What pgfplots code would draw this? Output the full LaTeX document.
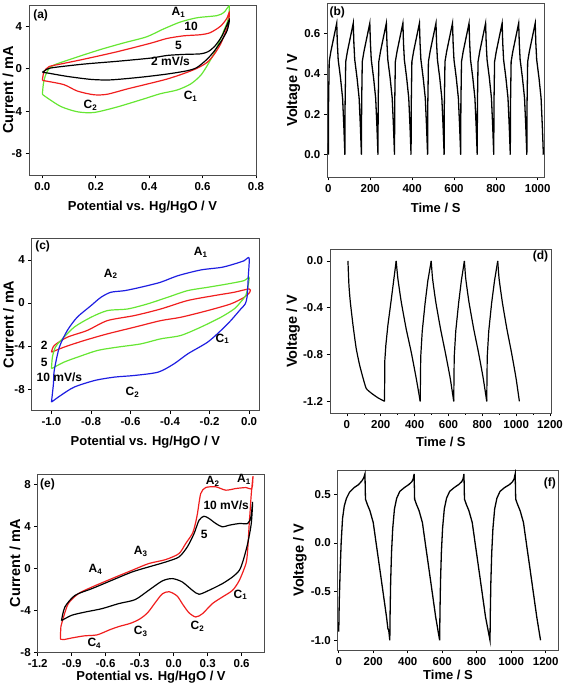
\documentclass[border=0pt]{standalone}
\usepackage{fontspec}
\setmainfont{Liberation Sans}
\usepackage{pgfplots}
\pgfplotsset{compat=1.18}
\definecolor{cvgreen}{RGB}{102,230,51}
\definecolor{cvred}{RGB}{240,30,30}
\definecolor{cvblue}{RGB}{30,30,225}
\pgfplotsset{
  panel/.style={
    scale only axis, anchor=south west,
    axis line style={black!70, line width=0.6pt},
    tick style={black, line width=0.6pt},
    tick align=outside, tick pos=left,
    major tick length=3.5pt, minor tick length=2pt,
    tick label style={font=\fontsize{11.5}{13}\selectfont\bfseries},
    xlabel style={font=\fontsize{13}{15}\selectfont\bfseries},
    ylabel style={font=\fontsize{14.5}{16}\selectfont\bfseries},
    /pgf/number format/assume math mode=true,
    /pgf/number format/1000 sep={},
    every axis plot/.append style={line width=1.2pt},
  },
  onedec/.style={/pgf/number format/.cd, fixed, fixed zerofill, precision=1},
  yl/.style={ylabel style={at={(axis description cs:#1,0.5)}, anchor=center}},
  xl/.style={xlabel style={at={(axis description cs:0.5,#1)}, anchor=center}},
}
\tikzset{lbl/.style={font=\fontsize{12}{14}\selectfont\bfseries, inner sep=0pt}}
\begin{document}
\begin{tikzpicture}
\useasboundingbox (0,0) rectangle (567pt,692pt);
%------------------------------------------------ (a)
\begin{axis}[panel, at={(29pt,517pt)}, width=227pt, height=170pt,
  xmin=-0.05, xmax=0.8, ymin=-10, ymax=6,
  xtick={0,0.2,0.4,0.6,0.8}, ytick={-8,-4,0,4},
  xticklabel style={onedec}, yl=-0.092, xl=-0.188,
  xlabel={Potential vs. Hg/HgO / V}, ylabel={Current / mA}]
\addplot[cvgreen, smooth, tension=0.45] coordinates {
(0.0,-2.4)(0.004,-1.4)(0.012,-0.6)(0.025,0.0)(0.044,0.35)(0.094,0.8)(0.21,1.75)
(0.30,2.4)(0.39,3.0)(0.45,3.7)(0.517,4.4)(0.58,4.8)(0.654,5.0)(0.68,5.3)(0.70,5.9)
(0.695,4.6)(0.68,3.6)(0.667,2.8)(0.642,1.4)(0.617,0.28)(0.592,-0.65)(0.555,-1.44)
(0.505,-2.0)(0.442,-2.35)(0.38,-2.84)(0.28,-3.6)(0.193,-4.12)(0.131,-4.05)
(0.069,-3.55)(0.01,-2.6)(0.0,-2.4)};
\addplot[cvred, smooth, tension=0.45] coordinates {
(0.0,-1.1)(0.006,-0.3)(0.025,0.2)(0.07,0.45)(0.156,0.9)(0.28,1.6)(0.405,2.4)
(0.467,2.85)(0.53,3.1)(0.592,3.2)(0.629,3.4)(0.667,4.0)(0.69,4.7)(0.70,5.3)
(0.697,4.3)(0.685,3.4)(0.667,2.3)(0.642,1.3)(0.617,0.6)(0.58,0.05)(0.53,-0.45)
(0.467,-0.97)(0.393,-1.44)(0.318,-1.9)(0.243,-2.4)(0.193,-2.45)(0.131,-2.1)
(0.081,-1.5)(0.012,-1.15)(0.0,-1.1)};
\addplot[black, smooth, tension=0.45] coordinates {
(0.0,-0.34)(0.019,-0.03)(0.044,0.12)(0.156,0.44)(0.28,0.7)(0.405,1.0)(0.467,1.25)
(0.53,1.35)(0.592,1.4)(0.62,1.6)(0.645,2.1)(0.673,3.1)(0.70,4.6)
(0.692,3.6)(0.67,2.6)(0.645,1.7)(0.617,0.9)(0.579,0.12)(0.542,-0.19)(0.467,-0.5)
(0.368,-0.8)(0.255,-1.05)(0.181,-1.0)(0.093,-0.72)(0.019,-0.4)(0.0,-0.34)};
\node[lbl, anchor=west] at (rel axis cs:0.018,0.94) {(a)};
\node[lbl] at (axis cs:0.51,5.3) {A\textsubscript{1}};
\node[lbl] at (axis cs:0.557,4.0) {10};
\node[lbl] at (axis cs:0.51,2.15) {5};
\node[lbl] at (axis cs:0.48,0.66) {2 mV/s};
\node[lbl] at (axis cs:0.555,-2.6) {C\textsubscript{1}};
\node[lbl] at (axis cs:0.18,-3.47) {C\textsubscript{2}};
\end{axis}
%------------------------------------------------ (b)
\begin{axis}[panel, at={(327.3pt,515pt)}, width=216.7pt, height=174pt,
  xmin=-5, xmax=1030, ymin=-0.11, ymax=0.75,
  xtick={0,200,400,600,800,1000}, ytick={0,0.2,0.4,0.6},
  yticklabel style={onedec}, yl=-0.157, xl=-0.178,
  xlabel={Time / S}, ylabel={Voltage / V}]
\addplot[black, line width=1.3pt] coordinates {
(0,0)(1,0.25)(4,0.46)(12,0.51)(26,0.58)(40,0.65)(43,0.55)(47,0.47)(58,0.38)(68,0.28)(74,0.14)
(79,0)(80,0.25)(83,0.46)(91,0.51)(105,0.58)(119,0.65)(122,0.55)(126,0.47)(137,0.38)(147,0.28)(153,0.14)
(158,0)(159,0.25)(162,0.46)(170,0.51)(184,0.58)(198,0.65)(201,0.55)(205,0.47)(216,0.38)(226,0.28)(232,0.14)
(237,0)(238,0.25)(241,0.46)(249,0.51)(263,0.58)(277,0.65)(280,0.55)(284,0.47)(295,0.38)(305,0.28)(311,0.14)
(316,0)(317,0.25)(320,0.46)(328,0.51)(342,0.58)(356,0.65)(359,0.55)(363,0.47)(374,0.38)(384,0.28)(390,0.14)
(395,0)(396,0.25)(399,0.46)(407,0.51)(421,0.58)(435,0.65)(438,0.55)(442,0.47)(453,0.38)(463,0.28)(469,0.14)
(474,0)(475,0.25)(478,0.46)(486,0.51)(500,0.58)(514,0.65)(517,0.55)(521,0.47)(532,0.38)(542,0.28)(548,0.14)
(553,0)(554,0.25)(557,0.46)(565,0.51)(579,0.58)(593,0.65)(596,0.55)(600,0.47)(611,0.38)(621,0.28)(627,0.14)
(632,0)(633,0.25)(636,0.46)(644,0.51)(658,0.58)(672,0.65)(675,0.55)(679,0.47)(690,0.38)(700,0.28)(706,0.14)
(711,0)(712,0.25)(715,0.46)(723,0.51)(737,0.58)(751,0.65)(754,0.55)(758,0.47)(769,0.38)(779,0.28)(785,0.14)
(790,0)(791,0.25)(794,0.46)(802,0.51)(816,0.58)(830,0.65)(833,0.55)(837,0.47)(848,0.38)(858,0.28)(864,0.14)
(869,0)(870,0.25)(873,0.46)(881,0.51)(895,0.58)(909,0.65)(912,0.55)(916,0.47)(927,0.38)(937,0.28)(943,0.14)
(948,0)(949,0.25)(952,0.46)(960,0.51)(974,0.58)(988,0.65)(991,0.55)(995,0.47)(1006,0.38)(1016,0.28)(1022,0.14)
(1027,0)};
\node[lbl, anchor=west] at (rel axis cs:0.01,0.945) {(b)};
\end{axis}
%------------------------------------------------ (c)
\begin{axis}[panel, at={(31.7pt,281.3pt)}, width=227.3pt, height=172.4pt,
  xmin=-1.1, xmax=0.05, ymin=-10, ymax=6,
  xtick={-1,-0.8,-0.6,-0.4,-0.2,0}, ytick={-8,-4,0,4},
  xticklabel style={onedec}, yl=-0.102, xl=-0.18,
  xlabel={Potential vs. Hg/HgO / V}, ylabel={Current / mA}]
\addplot[cvred, smooth, tension=0.45] coordinates {
(-1.0,-4.57)(-0.986,-3.95)(-0.92,-3.18)(-0.82,-2.56)(-0.717,-1.64)(-0.58,-1.17)
(-0.447,-0.56)(-0.312,0.22)(-0.177,0.68)(-0.076,0.99)(0.0,1.3)(0.003,0.99)
(-0.025,0.52)(-0.093,-0.09)(-0.21,-0.71)(-0.346,-1.33)(-0.447,-1.64)(-0.58,-2.25)
(-0.717,-2.87)(-0.835,-3.49)(-0.936,-4.1)(-1.0,-4.57)};
\addplot[cvgreen, smooth, tension=0.45] coordinates {
(-1.0,-6.1)(-0.995,-5.0)(-0.98,-4.1)(-0.953,-3.49)(-0.885,-2.25)(-0.80,-1.33)
(-0.717,-0.71)(-0.615,-0.56)(-0.514,-0.09)(-0.413,0.52)(-0.312,1.14)(-0.21,1.45)
(-0.11,1.76)(-0.025,2.07)(0.0,2.38)(-0.006,1.5)(-0.017,0.7)(-0.042,0.1)(-0.076,-0.56)
(-0.143,-1.33)(-0.245,-2.25)(-0.346,-3.02)(-0.447,-3.33)(-0.548,-3.8)(-0.666,-4.1)
(-0.767,-4.41)(-0.868,-5.03)(-0.936,-5.49)(-1.0,-6.1)};
\addplot[cvblue, smooth, tension=0.45] coordinates {
(-1.0,-9.2)(-0.99,-7.5)(-0.986,-6.27)(-0.96,-4.1)(-0.92,-2.56)(-0.87,-1.33)
(-0.80,-0.25)(-0.75,0.52)(-0.70,0.99)(-0.63,1.14)(-0.55,1.45)(-0.45,1.91)
(-0.36,2.53)(-0.245,3.06)(-0.14,3.3)(-0.076,3.61)(-0.025,3.92)(0.0,4.17)
(-0.004,2.5)(-0.01,0.6)(-0.02,-0.1)(-0.042,-0.56)(-0.093,-1.64)(-0.143,-2.56)
(-0.21,-3.64)(-0.31,-4.72)(-0.38,-5.65)(-0.46,-6.42)(-0.58,-6.73)(-0.68,-6.88)
(-0.78,-7.19)(-0.885,-7.81)(-0.953,-8.58)(-1.0,-9.2)};
\node[lbl, anchor=west] at (rel axis cs:0.015,0.955) {(c)};
\node[lbl] at (axis cs:-0.245,4.7) {A\textsubscript{1}};
\node[lbl] at (axis cs:-0.70,2.7) {A\textsubscript{2}};
\node[lbl] at (axis cs:-0.135,-3.33) {C\textsubscript{1}};
\node[lbl] at (axis cs:-0.59,-8.27) {C\textsubscript{2}};
\node[lbl] at (axis cs:-1.037,-3.95) {2};
\node[lbl] at (axis cs:-1.037,-5.5) {5};
\node[lbl] at (axis cs:-0.96,-6.88) {10 mV/s};
\end{axis}
%------------------------------------------------ (d)
\begin{axis}[panel, at={(330pt,279pt)}, width=221.7pt, height=163.7pt,
  xmin=-100, xmax=1210, ymin=-1.3, ymax=0.1,
  xtick={0,200,400,600,800,1000,1200}, minor x tick num=1,
  ytick={-1.2,-0.8,-0.4,0}, yticklabel style={onedec}, yl=-0.166, xl=-0.175,
  xlabel={Time / S}, ylabel={Voltage / V}]
\addplot[black, line width=1.2pt, smooth, tension=0.3] coordinates {
(6,0)(12,-0.21)(20,-0.35)(36,-0.55)(55,-0.75)(75,-0.89)(95,-1.0)(114,-1.09)
(144,-1.13)(183,-1.17)(222,-1.2)};
\addplot[black, line width=1.2pt] coordinates {
(222,-1.2)(224,-0.85)(230,-0.72)(242,-0.55)(262,-0.33)(276,-0.17)(291,0)};
\addplot[black, line width=1.2pt, smooth, tension=0.3] coordinates {
(291,0)(301,-0.15)(321,-0.35)(350,-0.58)(380,-0.78)(409,-1.0)(433,-1.2)};
\addplot[black, line width=1.2pt] coordinates {
(433,-1.2)(436,-0.82)(445,-0.6)(462,-0.36)(478,-0.17)(498,0)};
\addplot[black, line width=1.2pt, smooth, tension=0.3] coordinates {
(498,0)(506,-0.15)(525,-0.35)(553,-0.58)(581,-0.78)(610,-1.0)(631,-1.2)};
\addplot[black, line width=1.2pt] coordinates {
(631,-1.2)(634,-0.82)(643,-0.6)(660,-0.36)(676,-0.17)(694,0)};
\addplot[black, line width=1.2pt, smooth, tension=0.3] coordinates {
(694,0)(702,-0.15)(721,-0.35)(749,-0.58)(777,-0.78)(805,-1.0)(826,-1.2)};
\addplot[black, line width=1.2pt] coordinates {
(826,-1.2)(829,-0.82)(838,-0.6)(855,-0.36)(872,-0.17)(891,0)};
\addplot[black, line width=1.2pt, smooth, tension=0.3] coordinates {
(891,0)(899,-0.15)(918,-0.35)(945,-0.58)(972,-0.78)(999,-1.0)(1019,-1.2)};
\node[lbl, anchor=east] at (rel axis cs:0.985,0.955) {(d)};
\end{axis}
%------------------------------------------------ (e)
\begin{axis}[panel, at={(37.7pt,39.3pt)}, width=226.6pt, height=178.7pt,
  xmin=-1.2, xmax=0.8, ymin=-8, ymax=9,
  xtick={-1.2,-0.9,-0.6,-0.3,0,0.3,0.6}, ytick={-8,-4,0,4,8},
  xticklabel style={onedec}, yl=-0.1, xl=-0.138,
  xlabel={Potential vs. Hg/HgO / V}, ylabel={Current / mA}]
\addplot[cvred, smooth, tension=0.45] coordinates {
(-1.0,-6.7)(-0.995,-5.5)(-0.98,-4.9)(-0.93,-3.33)(-0.84,-2.38)(-0.72,-1.75)
(-0.545,-0.95)(-0.367,-0.16)(-0.22,0.48)(-0.07,0.86)(0.047,1.43)(0.106,2.38)
(0.165,3.33)(0.19,4.2)(0.21,5.24)(0.239,7.14)(0.283,7.71)(0.372,7.78)(0.46,7.46)
(0.55,7.62)(0.638,7.71)(0.69,7.62)(0.70,8.8)(0.685,7.1)(0.675,5.5)(0.667,4.29)
(0.653,1.75)(0.638,0.48)(0.58,-1.11)(0.52,-2.06)(0.43,-2.7)(0.342,-3.33)
(0.254,-4.29)(0.195,-4.6)(0.135,-4.2)(0.08,-3.4)(0.03,-2.6)(-0.04,-2.2)(-0.10,-2.4)
(-0.16,-3.2)(-0.23,-4.2)(-0.30,-4.8)(-0.38,-5.2)(-0.48,-5.5)(-0.56,-5.8)
(-0.675,-6.3)(-0.79,-6.4)(-0.9,-6.6)(-0.97,-6.75)(-1.0,-6.7)};
\addplot[black, smooth, tension=0.45] coordinates {
(-0.99,-4.95)(-0.96,-3.65)(-0.87,-2.54)(-0.72,-1.9)(-0.545,-1.11)(-0.367,-0.32)
(-0.22,0.16)(-0.07,0.63)(0.047,1.11)(0.12,2.06)(0.18,3.33)(0.224,4.6)(0.268,4.98)
(0.313,4.76)(0.372,4.29)(0.43,3.97)(0.49,4.13)(0.58,4.29)(0.653,4.29)(0.682,4.92)
(0.697,6.35)(0.685,4.29)(0.653,2.38)(0.614,0.79)(0.58,-0.16)(0.52,-0.79)(0.43,-1.43)
(0.313,-2.06)(0.224,-2.44)(0.165,-2.06)(0.076,-1.27)(-0.012,-0.95)(-0.10,-1.17)
(-0.22,-2.06)(-0.34,-2.95)(-0.485,-3.33)(-0.633,-3.81)(-0.78,-4.13)(-0.9,-4.44)
(-0.99,-4.95)};
\node[lbl, anchor=west] at (rel axis cs:0.01,0.94) {(e)};
\node[lbl] at (axis cs:0.345,8.3) {A\textsubscript{2}};
\node[lbl] at (axis cs:0.62,8.5) {A\textsubscript{1}};
\node[lbl] at (axis cs:0.464,6.0) {10 mV/s};
\node[lbl] at (axis cs:0.27,3.24) {5};
\node[lbl] at (axis cs:-0.29,1.65) {A\textsubscript{3}};
\node[lbl] at (axis cs:-0.69,-0.1) {A\textsubscript{4}};
\node[lbl] at (axis cs:0.59,-2.5) {C\textsubscript{1}};
\node[lbl] at (axis cs:0.21,-5.5) {C\textsubscript{2}};
\node[lbl] at (axis cs:-0.29,-6.0) {C\textsubscript{3}};
\node[lbl] at (axis cs:-0.70,-7.1) {C\textsubscript{4}};
\end{axis}
%------------------------------------------------ (f)
\begin{axis}[panel, at={(337.7pt,42pt)}, width=220.6pt, height=180pt,
  xmin=-6, xmax=1273, ymin=-1.1, ymax=0.75,
  xtick={0,200,400,600,800,1000,1200}, ytick={-1,-0.5,0,0.5},
  yticklabel style={onedec}, yl=-0.171, xl=-0.14,
  xlabel={Time / S}, ylabel={Voltage / V}]
\addplot[black, line width=1.3pt] coordinates {
(0,-0.91)(3,-0.6)(8,-0.3)(14,0.0)(22,0.25)(32,0.38)(45,0.46)(62,0.52)(90,0.57)
(115,0.6)(135,0.64)(145,0.67)(152,0.71)
(155,0.45)(165,0.40)(181,0.33)(200,0.21)(219,-0.03)(239,-0.28)(258,-0.52)(277,-0.76)
(285,-0.88)(290,-0.9)(296,-1.0)
(298,-0.7)(301,-0.4)(306,-0.1)(313,0.15)(323,0.35)(336,0.46)(354,0.53)(381,0.57)
(406,0.6)(424,0.63)(432,0.66)(437,0.71)
(440,0.45)(450,0.40)(466,0.33)(485,0.21)(504,-0.03)(524,-0.28)(543,-0.52)(562,-0.76)(585,-1.0)
(587,-0.7)(590,-0.4)(595,-0.1)(602,0.15)(612,0.35)(625,0.46)(643,0.53)(670,0.57)
(695,0.6)(713,0.63)(721,0.66)(726,0.71)
(729,0.45)(739,0.40)(755,0.33)(774,0.21)(793,-0.03)(813,-0.28)(832,-0.52)(851,-0.76)(877,-1.0)
(879,-0.7)(882,-0.4)(887,-0.1)(894,0.15)(904,0.35)(917,0.46)(935,0.53)(962,0.57)
(990,0.6)(1008,0.63)(1017,0.66)(1023,0.71)
(1026,0.45)(1036,0.40)(1052,0.33)(1071,0.21)(1090,-0.03)(1110,-0.28)(1129,-0.52)(1148,-0.76)(1170,-1.0)};
\node[lbl, anchor=east] at (rel axis cs:0.99,0.926) {(f)};
\end{axis}
\end{tikzpicture}
\end{document}
